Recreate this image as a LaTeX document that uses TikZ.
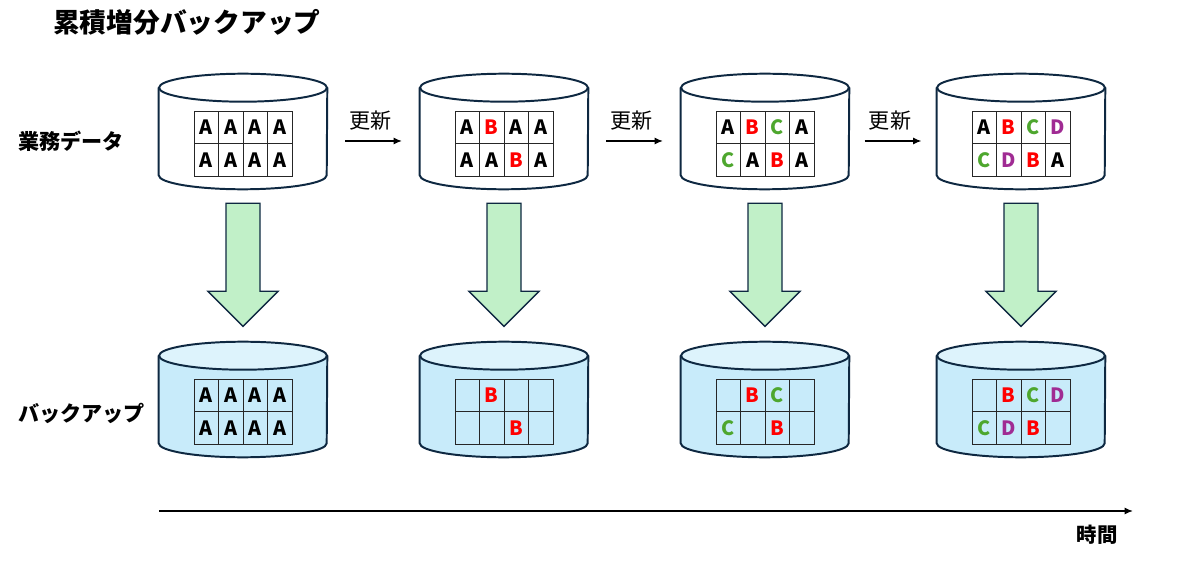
\documentclass[tikz,border=0pt]{standalone}
\usepackage{fontspec}
\setmainfont{Noto Sans CJK JP}
\usetikzlibrary{arrows.meta,positioning,calc}
\definecolor{linecol}{HTML}{0E2841}
\definecolor{bodycol}{HTML}{C8EBFA}
\definecolor{topcol}{HTML}{DDF3FC}
\definecolor{arrowcol}{HTML}{C1F0C8}
\definecolor{bcol}{HTML}{FF0000}
\definecolor{ccol}{HTML}{4EA72E}
\definecolor{dcol}{HTML}{A02B93}

\tikzset{
  dbnode/.style={minimum width=4.2cm, minimum height=2.875cm, inner sep=0pt},
  dbline/.style={draw=linecol, line width=1.4pt},
  cellbox/.style={draw=black!85, line width=0.7pt, minimum width=0.6125cm, minimum height=0.8125cm, inner sep=0pt, font=\bfseries\fontsize{14}{15}\selectfont},
  copyarrow/.style={draw=linecol, line width=1pt, fill=arrowcol, line join=miter},
  updarrow/.style={-{Latex[length=6pt,width=5pt]}, line width=1pt, black},
  lbl/.style={anchor=west, inner sep=0pt, font=\bfseries\fontsize{15}{18}\selectfont},
}

% cylinder drawn on the frame of a named node
\newcommand{\drawdb}[3]{%
  \filldraw[dbline, fill=#2] ($(#1.north west)+(0,-14)$) -- ($(#1.south west)+(0,14)$)
    arc[start angle=180, end angle=360, x radius=84, y radius=14] -- ($(#1.north east)+(0,-14)$);
  \filldraw[dbline, fill=#3] ($(#1.north)+(0,-14)$) ellipse[x radius=84, y radius=14];
}

% 4x2 block grid inside a cylinder
\newcommand{\cellgrid}[3]{%
  \foreach \txt/\clr [count=\k from 0] in {#3} {
    \pgfmathtruncatemacro\rw{int(\k/4)}
    \pgfmathtruncatemacro\cl{mod(\k,4)}
    \node[cellbox, text=\clr] (#1-\k) at ($(#2)+(-36.75+24.5*\cl, 4.25-32.5*\rw)$) {\txt};
  }
}

% big copy arrow below a cylinder
\newcommand{\copyarrow}[1]{%
  \begin{scope}[shift={($(#1.south)+(0,-14)$)}]
    \filldraw[copyarrow] (-17,0) -- (17,0) -- (17,-88) -- (35,-88) -- (0,-123) -- (-35,-88) -- (-17,-88) -- cycle;
  \end{scope}
}

\begin{document}
\begin{tikzpicture}[x=0.025cm, y=0.025cm, font=\fontsize{15}{18}\selectfont]
\useasboundingbox (0,0) rectangle (1186,561);

% title and row labels
\node[lbl, font=\bfseries\fontsize{19}{22}\selectfont] (title) at (53,539) {累積増分バックアップ};
\node[lbl] (lbldata) at (18,420) {業務データ};
\node[lbl] (lblbackup) at (18,148) {バックアップ};

% databases (top: live data, bottom: backups)
\foreach \n/\x in {1/243, 2/504, 3/765, 4/1021} {
  \node[dbnode] (d\n) at (\x,429.5) {};
  \node[dbnode] (b\n) at (\x,161.5) {};
  \drawdb{d\n}{white}{white}
  \drawdb{b\n}{bodycol}{topcol}
  \copyarrow{d\n}
}

% blocks
\cellgrid{gd1}{d1}{A/black,A/black,A/black,A/black,A/black,A/black,A/black,A/black}
\cellgrid{gd2}{d2}{A/black,B/bcol,A/black,A/black,A/black,A/black,B/bcol,A/black}
\cellgrid{gd3}{d3}{A/black,B/bcol,C/ccol,A/black,C/ccol,A/black,B/bcol,A/black}
\cellgrid{gd4}{d4}{A/black,B/bcol,C/ccol,D/dcol,C/ccol,D/dcol,B/bcol,A/black}
\cellgrid{gb1}{b1}{A/black,A/black,A/black,A/black,A/black,A/black,A/black,A/black}
\cellgrid{gb2}{b2}{{}/black,B/bcol,{}/black,{}/black,{}/black,{}/black,B/bcol,{}/black}
\cellgrid{gb3}{b3}{{}/black,B/bcol,C/ccol,{}/black,C/ccol,{}/black,B/bcol,{}/black}
\cellgrid{gb4}{b4}{{}/black,B/bcol,C/ccol,D/dcol,C/ccol,D/dcol,B/bcol,{}/black}

% update arrows
\foreach \a/\b in {1/2, 2/3, 3/4} {
  \coordinate (m\a) at ($(d\a.east)!0.5!(d\b.west)+(0,-9.5)$);
  \coordinate (us\a) at ($(m\a)+(-28.5,0)$);
  \coordinate (ue\a) at ($(m\a)+(28.5,0)$);
  \draw[updarrow] (us\a) -- (ue\a);
  \node (upd\a) at ($(m\a)+(-3,20)$) {更新};
}

% time axis
\coordinate (t0) at (159,50);
\coordinate (t1) at (1133,50);
\draw[updarrow] (t0) -- (t1);
\node[font=\bfseries\fontsize{14.5}{16}\selectfont] (timelbl) at (1097,26) {時間};
\end{tikzpicture}
\end{document}
